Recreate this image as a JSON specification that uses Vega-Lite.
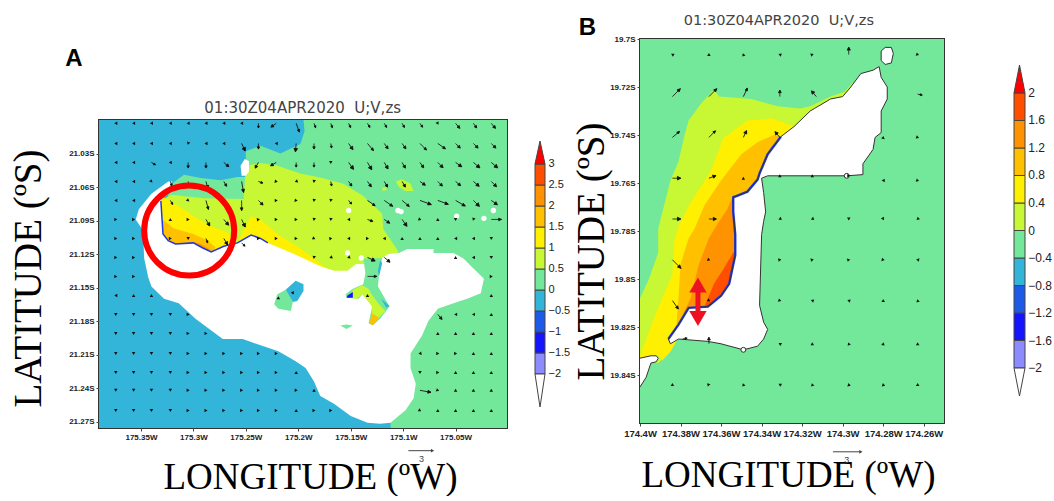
{
"$schema":"https://vega.github.io/schema/vega-lite/v6.json",
"background":"white",
"padding":{"left":8,"top":10,"right":0,"bottom":0},
"config":{"axis":{"labelFont":"Liberation Sans","labelFontWeight":"bold","labelColor":"#222","labelOverlap":false,"labelFlush":false,"tickColor":"#444","tickSize":3,"domain":false,"titleFont":"Liberation Serif","titleFontWeight":"normal","titleColor":"#000","zindex":1,"gridColor":"#aaa","gridDash":[2,3],"gridWidth":1}},
"datasets":{
"bandsA":[{"lo":-2,"hi":-1.5,"zs":-1.75},{"lo":-1.5,"hi":-1,"zs":-1.25},{"lo":-1,"hi":-0.5,"zs":-0.75},{"lo":-0.5,"hi":0,"zs":-0.25},{"lo":0,"hi":0.5,"zs":0.25},{"lo":0.5,"hi":1,"zs":0.75},{"lo":1,"hi":1.5,"zs":1.25},{"lo":1.5,"hi":2,"zs":1.75},{"lo":2,"hi":2.5,"zs":2.25},{"lo":2.5,"hi":3,"zs":2.75}],
"bandsB":[{"lo":-2,"hi":-1.6,"zs":-1.8},{"lo":-1.6,"hi":-1.2,"zs":-1.4},{"lo":-1.2,"hi":-0.8,"zs":-1},{"lo":-0.8,"hi":-0.4,"zs":-0.6},{"lo":-0.4,"hi":0,"zs":-0.2},{"lo":0,"hi":0.4,"zs":0.2},{"lo":0.4,"hi":0.8,"zs":0.6},{"lo":0.8,"hi":1.2,"zs":1},{"lo":1.2,"hi":1.6,"zs":1.4},{"lo":1.6,"hi":2,"zs":1.8}],
"ticksA":[{"pos":1.35,"val":-2,"label":"−2"},{"pos":1.35,"val":-1.5,"label":"−1.5"},{"pos":1.35,"val":-1,"label":"−1"},{"pos":1.35,"val":-0.5,"label":"−0.5"},{"pos":1.35,"val":0,"label":"0"},{"pos":1.35,"val":0.5,"label":"0.5"},{"pos":1.35,"val":1,"label":"1"},{"pos":1.35,"val":1.5,"label":"1.5"},{"pos":1.35,"val":2,"label":"2"},{"pos":1.35,"val":2.5,"label":"2.5"},{"pos":1.35,"val":3,"label":"3"}],
"ticksB":[{"pos":1.3,"val":-2,"label":"−2"},{"pos":1.3,"val":-1.6,"label":"−1.6"},{"pos":1.3,"val":-1.2,"label":"−1.2"},{"pos":1.3,"val":-0.8,"label":"−0.8"},{"pos":1.3,"val":-0.4,"label":"−0.4"},{"pos":1.3,"val":0,"label":"0"},{"pos":1.3,"val":0.4,"label":"0.4"},{"pos":1.3,"val":0.8,"label":"0.8"},{"pos":1.3,"val":1.2,"label":"1.2"},{"pos":1.3,"val":1.6,"label":"1.6"},{"pos":1.3,"val":2,"label":"2"}],
"a_polys":[
{"p":"base","i":0,"zs":-0.25,"lon":-175.39,"lat":-21},{"p":"base","i":1,"zs":-0.25,"lon":-175.001,"lat":-21},{"p":"base","i":2,"zs":-0.25,"lon":-175.001,"lat":-21.2757},{"p":"base","i":3,"zs":-0.25,"lon":-175.39,"lat":-21.2757},
{"p":"green","i":0,"zs":0.25,"lon":-175.195,"lat":-21},{"p":"green","i":1,"zs":0.25,"lon":-175.001,"lat":-21},{"p":"green","i":2,"zs":0.25,"lon":-175.001,"lat":-21.2757},{"p":"green","i":3,"zs":0.25,"lon":-175.112,"lat":-21.2757},{"p":"green","i":4,"zs":0.25,"lon":-175.112,"lat":-21.265},{"p":"green","i":5,"zs":0.25,"lon":-175.198,"lat":-21.162},{"p":"green","i":6,"zs":0.25,"lon":-175.293,"lat":-21.108},{"p":"green","i":7,"zs":0.25,"lon":-175.324,"lat":-21.0725},{"p":"green","i":8,"zs":0.25,"lon":-175.324,"lat":-21.0635},{"p":"green","i":9,"zs":0.25,"lon":-175.319,"lat":-21.056},{"p":"green","i":10,"zs":0.25,"lon":-175.309,"lat":-21.049},{"p":"green","i":11,"zs":0.25,"lon":-175.293,"lat":-21.052},{"p":"green","i":12,"zs":0.25,"lon":-175.274,"lat":-21.054},{"p":"green","i":13,"zs":0.25,"lon":-175.258,"lat":-21.051},{"p":"green","i":14,"zs":0.25,"lon":-175.25,"lat":-21.051},{"p":"green","i":15,"zs":0.25,"lon":-175.25,"lat":-21.028},{"p":"green","i":16,"zs":0.25,"lon":-175.236,"lat":-21.023},{"p":"green","i":17,"zs":0.25,"lon":-175.217,"lat":-21.03},{"p":"green","i":18,"zs":0.25,"lon":-175.198,"lat":-21.0215},{"p":"green","i":19,"zs":0.25,"lon":-175.194,"lat":-21.01},
{"p":"lime","i":0,"zs":0.75,"lon":-175.3215,"lat":-21.067},{"p":"lime","i":1,"zs":0.75,"lon":-175.29,"lat":-21.07},{"p":"lime","i":2,"zs":0.75,"lon":-175.252,"lat":-21.0707},{"p":"lime","i":3,"zs":0.75,"lon":-175.25,"lat":-21.041},{"p":"lime","i":4,"zs":0.75,"lon":-175.236,"lat":-21.0385},{"p":"lime","i":5,"zs":0.75,"lon":-175.22,"lat":-21.041},{"p":"lime","i":6,"zs":0.75,"lon":-175.198,"lat":-21.048},{"p":"lime","i":7,"zs":0.75,"lon":-175.177,"lat":-21.052},{"p":"lime","i":8,"zs":0.75,"lon":-175.157,"lat":-21.057},{"p":"lime","i":9,"zs":0.75,"lon":-175.138,"lat":-21.068},{"p":"lime","i":10,"zs":0.75,"lon":-175.12,"lat":-21.084},{"p":"lime","i":11,"zs":0.75,"lon":-175.119,"lat":-21.0976},{"p":"lime","i":12,"zs":0.75,"lon":-175.105,"lat":-21.117},{"p":"lime","i":13,"zs":0.75,"lon":-175.104,"lat":-21.128},{"p":"lime","i":14,"zs":0.75,"lon":-175.16,"lat":-21.153},{"p":"lime","i":15,"zs":0.75,"lon":-175.331,"lat":-21.117},{"p":"lime","i":16,"zs":0.75,"lon":-175.331,"lat":-21.0725},
{"p":"blob1","i":0,"zs":0.75,"lon":-175.107,"lat":-21.055},{"p":"blob1","i":1,"zs":0.75,"lon":-175.101,"lat":-21.053},{"p":"blob1","i":2,"zs":0.75,"lon":-175.093,"lat":-21.057},{"p":"blob1","i":3,"zs":0.75,"lon":-175.09,"lat":-21.0635},{"p":"blob1","i":4,"zs":0.75,"lon":-175.098,"lat":-21.0635},{"p":"blob1","i":5,"zs":0.75,"lon":-175.104,"lat":-21.06},
{"p":"blob2","i":0,"zs":0.75,"lon":-175.12,"lat":-21.061},{"p":"blob2","i":1,"zs":0.75,"lon":-175.116,"lat":-21.06},{"p":"blob2","i":2,"zs":0.75,"lon":-175.116,"lat":-21.063},{"p":"blob2","i":3,"zs":0.75,"lon":-175.12,"lat":-21.063},
{"p":"y1","i":0,"zs":1.25,"lon":-175.331,"lat":-21.068},{"p":"y1","i":1,"zs":1.25,"lon":-175.319,"lat":-21.074},{"p":"y1","i":2,"zs":1.25,"lon":-175.3,"lat":-21.086},{"p":"y1","i":3,"zs":1.25,"lon":-175.283,"lat":-21.095},{"p":"y1","i":4,"zs":1.25,"lon":-175.267,"lat":-21.101},{"p":"y1","i":5,"zs":1.25,"lon":-175.261,"lat":-21.109},{"p":"y1","i":6,"zs":1.25,"lon":-175.279,"lat":-21.123},{"p":"y1","i":7,"zs":1.25,"lon":-175.331,"lat":-21.117},
{"p":"y2","i":0,"zs":1.25,"lon":-175.257,"lat":-21.108},{"p":"y2","i":1,"zs":1.25,"lon":-175.245,"lat":-21.086},{"p":"y2","i":2,"zs":1.25,"lon":-175.236,"lat":-21.089},{"p":"y2","i":3,"zs":1.25,"lon":-175.22,"lat":-21.102},{"p":"y2","i":4,"zs":1.25,"lon":-175.198,"lat":-21.115},{"p":"y2","i":5,"zs":1.25,"lon":-175.188,"lat":-21.122},{"p":"y2","i":6,"zs":1.25,"lon":-175.176,"lat":-21.131},{"p":"y2","i":7,"zs":1.25,"lon":-175.164,"lat":-21.137},{"p":"y2","i":8,"zs":1.25,"lon":-175.198,"lat":-21.144},{"p":"y2","i":9,"zs":1.25,"lon":-175.255,"lat":-21.126},
{"p":"amber","i":0,"zs":1.75,"lon":-175.331,"lat":-21.088},{"p":"amber","i":1,"zs":1.75,"lon":-175.319,"lat":-21.097},{"p":"amber","i":2,"zs":1.75,"lon":-175.3,"lat":-21.102},{"p":"amber","i":3,"zs":1.75,"lon":-175.286,"lat":-21.108},{"p":"amber","i":4,"zs":1.75,"lon":-175.279,"lat":-21.114},{"p":"amber","i":5,"zs":1.75,"lon":-175.283,"lat":-21.123},{"p":"amber","i":6,"zs":1.75,"lon":-175.331,"lat":-21.117},
{"p":"orange","i":0,"zs":2.25,"lon":-175.302,"lat":-21.109},{"p":"orange","i":1,"zs":2.25,"lon":-175.293,"lat":-21.111},{"p":"orange","i":2,"zs":2.25,"lon":-175.282,"lat":-21.117},{"p":"orange","i":3,"zs":2.25,"lon":-175.295,"lat":-21.115}
],
"a_land":[
{"p":"main","i":0,"lon":-175.32,"lat":-21.055},{"p":"main","i":1,"lon":-175.324,"lat":-21.055},{"p":"main","i":2,"lon":-175.34,"lat":-21.066},{"p":"main","i":3,"lon":-175.352,"lat":-21.08},{"p":"main","i":4,"lon":-175.355,"lat":-21.089},{"p":"main","i":5,"lon":-175.348,"lat":-21.099},{"p":"main","i":6,"lon":-175.347,"lat":-21.1235},{"p":"main","i":7,"lon":-175.343,"lat":-21.141},{"p":"main","i":8,"lon":-175.34,"lat":-21.149},{"p":"main","i":9,"lon":-175.328,"lat":-21.16},{"p":"main","i":10,"lon":-175.314,"lat":-21.164},{"p":"main","i":11,"lon":-175.298,"lat":-21.178},{"p":"main","i":12,"lon":-175.272,"lat":-21.196},{"p":"main","i":13,"lon":-175.253,"lat":-21.196},{"p":"main","i":14,"lon":-175.238,"lat":-21.201},{"p":"main","i":15,"lon":-175.219,"lat":-21.207},{"p":"main","i":16,"lon":-175.2025,"lat":-21.216},{"p":"main","i":17,"lon":-175.193,"lat":-21.222},{"p":"main","i":18,"lon":-175.185,"lat":-21.234},{"p":"main","i":19,"lon":-175.179,"lat":-21.247},{"p":"main","i":20,"lon":-175.166,"lat":-21.254},{"p":"main","i":21,"lon":-175.15,"lat":-21.265},{"p":"main","i":22,"lon":-175.134,"lat":-21.271},{"p":"main","i":23,"lon":-175.122,"lat":-21.272},{"p":"main","i":24,"lon":-175.112,"lat":-21.271},{"p":"main","i":25,"lon":-175.107,"lat":-21.267},{"p":"main","i":26,"lon":-175.098,"lat":-21.26},{"p":"main","i":27,"lon":-175.09,"lat":-21.249},{"p":"main","i":28,"lon":-175.088,"lat":-21.236},{"p":"main","i":29,"lon":-175.093,"lat":-21.222},{"p":"main","i":30,"lon":-175.093,"lat":-21.209},{"p":"main","i":31,"lon":-175.082,"lat":-21.193},{"p":"main","i":32,"lon":-175.076,"lat":-21.18},{"p":"main","i":33,"lon":-175.067,"lat":-21.169},{"p":"main","i":34,"lon":-175.052,"lat":-21.164},{"p":"main","i":35,"lon":-175.039,"lat":-21.16},{"p":"main","i":36,"lon":-175.026,"lat":-21.155},{"p":"main","i":37,"lon":-175.023,"lat":-21.142},{"p":"main","i":38,"lon":-175.033,"lat":-21.133},{"p":"main","i":39,"lon":-175.0425,"lat":-21.124},{"p":"main","i":40,"lon":-175.052,"lat":-21.119},{"p":"main","i":41,"lon":-175.071,"lat":-21.119},{"p":"main","i":42,"lon":-175.071,"lat":-21.1155},{"p":"main","i":43,"lon":-175.096,"lat":-21.1155},{"p":"main","i":44,"lon":-175.104,"lat":-21.119},{"p":"main","i":45,"lon":-175.114,"lat":-21.12},{"p":"main","i":46,"lon":-175.12,"lat":-21.1235},{"p":"main","i":47,"lon":-175.138,"lat":-21.129},{"p":"main","i":48,"lon":-175.145,"lat":-21.129},{"p":"main","i":49,"lon":-175.153,"lat":-21.135},{"p":"main","i":50,"lon":-175.166,"lat":-21.135},{"p":"main","i":51,"lon":-175.179,"lat":-21.131},{"p":"main","i":52,"lon":-175.204,"lat":-21.12},{"p":"main","i":53,"lon":-175.229,"lat":-21.11},{"p":"main","i":54,"lon":-175.236,"lat":-21.106},{"p":"main","i":55,"lon":-175.245,"lat":-21.103},{"p":"main","i":56,"lon":-175.258,"lat":-21.11},{"p":"main","i":57,"lon":-175.271,"lat":-21.113},{"p":"main","i":58,"lon":-175.283,"lat":-21.118},{"p":"main","i":59,"lon":-175.291,"lat":-21.1146},{"p":"main","i":60,"lon":-175.3,"lat":-21.11},{"p":"main","i":61,"lon":-175.317,"lat":-21.111},{"p":"main","i":62,"lon":-175.324,"lat":-21.108},{"p":"main","i":63,"lon":-175.329,"lat":-21.102},{"p":"main","i":64,"lon":-175.331,"lat":-21.0725},
{"p":"isle","i":0,"lon":-175.254,"lat":-21.05},{"p":"isle","i":1,"lon":-175.255,"lat":-21.041},{"p":"isle","i":2,"lon":-175.251,"lat":-21.035},{"p":"isle","i":3,"lon":-175.247,"lat":-21.037},{"p":"isle","i":4,"lon":-175.247,"lat":-21.046},{"p":"isle","i":5,"lon":-175.25,"lat":-21.05}
],
"a_over":[
{"p":"chan","i":0,"zs":0.25,"lon":-175.138,"lat":-21.124},{"p":"chan","i":1,"zs":0.25,"lon":-175.12,"lat":-21.1235},{"p":"chan","i":2,"zs":0.25,"lon":-175.123,"lat":-21.138},{"p":"chan","i":3,"zs":0.25,"lon":-175.124,"lat":-21.149},{"p":"chan","i":4,"zs":0.25,"lon":-175.113,"lat":-21.167},{"p":"chan","i":5,"zs":0.25,"lon":-175.122,"lat":-21.178},{"p":"chan","i":6,"zs":0.25,"lon":-175.129,"lat":-21.184},{"p":"chan","i":7,"zs":0.25,"lon":-175.133,"lat":-21.182},{"p":"chan","i":8,"zs":0.25,"lon":-175.129,"lat":-21.165},{"p":"chan","i":9,"zs":0.25,"lon":-175.138,"lat":-21.155},{"p":"chan","i":10,"zs":0.25,"lon":-175.1425,"lat":-21.16},{"p":"chan","i":11,"zs":0.25,"lon":-175.154,"lat":-21.159},{"p":"chan","i":12,"zs":0.25,"lon":-175.155,"lat":-21.156},{"p":"chan","i":13,"zs":0.25,"lon":-175.148,"lat":-21.151},{"p":"chan","i":14,"zs":0.25,"lon":-175.138,"lat":-21.147},{"p":"chan","i":15,"zs":0.25,"lon":-175.136,"lat":-21.137},
{"p":"pocket","i":0,"zs":0.75,"lon":-175.148,"lat":-21.152},{"p":"pocket","i":1,"zs":0.75,"lon":-175.139,"lat":-21.148},{"p":"pocket","i":2,"zs":0.75,"lon":-175.133,"lat":-21.151},{"p":"pocket","i":3,"zs":0.75,"lon":-175.129,"lat":-21.1575},{"p":"pocket","i":4,"zs":0.75,"lon":-175.123,"lat":-21.165},{"p":"pocket","i":5,"zs":0.75,"lon":-175.117,"lat":-21.171},{"p":"pocket","i":6,"zs":0.75,"lon":-175.122,"lat":-21.176},{"p":"pocket","i":7,"zs":0.75,"lon":-175.129,"lat":-21.182},{"p":"pocket","i":8,"zs":0.75,"lon":-175.13,"lat":-21.1665},{"p":"pocket","i":9,"zs":0.75,"lon":-175.139,"lat":-21.156},{"p":"pocket","i":10,"zs":0.75,"lon":-175.144,"lat":-21.16},{"p":"pocket","i":11,"zs":0.75,"lon":-175.152,"lat":-21.159},
{"p":"t1","i":0,"zs":-0.25,"lon":-175.122,"lat":-21.126},{"p":"t1","i":1,"zs":-0.25,"lon":-175.12,"lat":-21.128},{"p":"t1","i":2,"zs":-0.25,"lon":-175.123,"lat":-21.14},{"p":"t1","i":3,"zs":-0.25,"lon":-175.124,"lat":-21.135},
{"p":"t2","i":0,"zs":-0.25,"lon":-175.121,"lat":-21.16},{"p":"t2","i":1,"zs":-0.25,"lon":-175.113,"lat":-21.1665},{"p":"t2","i":2,"zs":-0.25,"lon":-175.116,"lat":-21.168},
{"p":"tail","i":0,"zs":1.75,"lon":-175.13,"lat":-21.173},{"p":"tail","i":1,"zs":1.75,"lon":-175.123,"lat":-21.177},{"p":"tail","i":2,"zs":1.75,"lon":-175.129,"lat":-21.1835},{"p":"tail","i":3,"zs":1.75,"lon":-175.132,"lat":-21.182},
{"p":"dark","i":0,"zs":-1.25,"lon":-175.153,"lat":-21.157},{"p":"dark","i":1,"zs":-1.25,"lon":-175.148,"lat":-21.154},{"p":"dark","i":2,"zs":-1.25,"lon":-175.148,"lat":-21.159},{"p":"dark","i":3,"zs":-1.25,"lon":-175.154,"lat":-21.159},
{"p":"i1","i":0,"zs":0.25,"lon":-175.223,"lat":-21.165},{"p":"i1","i":1,"zs":0.25,"lon":-175.22,"lat":-21.156},{"p":"i1","i":2,"zs":0.25,"lon":-175.212,"lat":-21.152},{"p":"i1","i":3,"zs":0.25,"lon":-175.205,"lat":-21.162},{"p":"i1","i":4,"zs":0.25,"lon":-175.207,"lat":-21.171},{"p":"i1","i":5,"zs":0.25,"lon":-175.219,"lat":-21.169},
{"p":"i2","i":0,"zs":-0.25,"lon":-175.212,"lat":-21.152},{"p":"i2","i":1,"zs":-0.25,"lon":-175.2025,"lat":-21.144},{"p":"i2","i":2,"zs":-0.25,"lon":-175.195,"lat":-21.147},{"p":"i2","i":3,"zs":-0.25,"lon":-175.195,"lat":-21.153},{"p":"i2","i":4,"zs":-0.25,"lon":-175.201,"lat":-21.162},{"p":"i2","i":5,"zs":-0.25,"lon":-175.205,"lat":-21.163},
{"p":"i3","i":0,"zs":0.25,"lon":-175.16,"lat":-21.184},{"p":"i3","i":1,"zs":0.25,"lon":-175.154,"lat":-21.183},{"p":"i3","i":2,"zs":0.25,"lon":-175.148,"lat":-21.184},{"p":"i3","i":3,"zs":0.25,"lon":-175.154,"lat":-21.187}
],
"a_coast":[{"i":0,"lon":-175.331,"lat":-21.0725},{"i":1,"lon":-175.329,"lat":-21.102},{"i":2,"lon":-175.324,"lat":-21.108},{"i":3,"lon":-175.317,"lat":-21.111},{"i":4,"lon":-175.3,"lat":-21.11},{"i":5,"lon":-175.291,"lat":-21.1146},{"i":6,"lon":-175.283,"lat":-21.118},{"i":7,"lon":-175.271,"lat":-21.113},{"i":8,"lon":-175.258,"lat":-21.11},{"i":9,"lon":-175.245,"lat":-21.103},{"i":10,"lon":-175.236,"lat":-21.106},{"i":11,"lon":-175.229,"lat":-21.11}],
"a_specks":[{"lon":-175.152,"lat":-21.081},{"lon":-175.105,"lat":-21.081},{"lon":-175.102,"lat":-21.082},{"lon":-175.049,"lat":-21.086},{"lon":-175.023,"lat":-21.088},{"lon":-175.014,"lat":-21.081},{"lon":-175.153,"lat":-21.119},{"lon":-175.14,"lat":-21.1235}],
"a_arrows":[
{"lon":-175.374,"lat":-21.003,"dir":270,"speed":0.4},{"lon":-175.357,"lat":-21.003,"dir":270,"speed":0.4},{"lon":-175.34,"lat":-21.003,"dir":270,"speed":0.4},{"lon":-175.322,"lat":-21.003,"dir":270,"speed":0.4},{"lon":-175.305,"lat":-21.003,"dir":270,"speed":0.4},{"lon":-175.288,"lat":-21.003,"dir":270,"speed":0.4},{"lon":-175.271,"lat":-21.003,"dir":270,"speed":0.4},{"lon":-175.254,"lat":-21.003,"dir":270,"speed":0.4},{"lon":-175.238,"lat":-21.003,"dir":180,"speed":0.5},{"lon":-175.221,"lat":-21.003,"dir":235,"speed":0.7},{"lon":-175.202,"lat":-21.003,"dir":160,"speed":1},{"lon":-175.185,"lat":-21.003,"dir":160,"speed":0.5},{"lon":-175.169,"lat":-21.003,"dir":160,"speed":0.5},{"lon":-175.152,"lat":-21.003,"dir":155,"speed":0.5},{"lon":-175.134,"lat":-21.003,"dir":150,"speed":0.5},{"lon":-175.118,"lat":-21.003,"dir":150,"speed":0.5},{"lon":-175.101,"lat":-21.003,"dir":150,"speed":0.5},{"lon":-175.084,"lat":-21.003,"dir":145,"speed":0.5},{"lon":-175.067,"lat":-21.003,"dir":150,"speed":0.4},{"lon":-175.05,"lat":-21.003,"dir":140,"speed":0.7},{"lon":-175.033,"lat":-21.003,"dir":145,"speed":0.6},{"lon":-175.016,"lat":-21.003,"dir":140,"speed":0.7},
{"lon":-175.374,"lat":-21.021,"dir":270,"speed":0.3},{"lon":-175.357,"lat":-21.021,"dir":270,"speed":0.3},{"lon":-175.34,"lat":-21.021,"dir":270,"speed":0.3},{"lon":-175.322,"lat":-21.021,"dir":270,"speed":0.3},{"lon":-175.305,"lat":-21.021,"dir":200,"speed":0.3},{"lon":-175.288,"lat":-21.021,"dir":270,"speed":0.3},{"lon":-175.271,"lat":-21.021,"dir":270,"speed":0.4},{"lon":-175.254,"lat":-21.021,"dir":155,"speed":0.9},{"lon":-175.238,"lat":-21.021,"dir":180,"speed":0.6},{"lon":-175.221,"lat":-21.021,"dir":270,"speed":0.3},{"lon":-175.202,"lat":-21.021,"dir":185,"speed":0.9},{"lon":-175.185,"lat":-21.021,"dir":180,"speed":0.6},{"lon":-175.169,"lat":-21.021,"dir":170,"speed":0.5},{"lon":-175.152,"lat":-21.021,"dir":145,"speed":0.8},{"lon":-175.134,"lat":-21.021,"dir":140,"speed":1},{"lon":-175.118,"lat":-21.021,"dir":145,"speed":0.7},{"lon":-175.101,"lat":-21.021,"dir":145,"speed":0.7},{"lon":-175.084,"lat":-21.021,"dir":135,"speed":1},{"lon":-175.067,"lat":-21.021,"dir":125,"speed":1},{"lon":-175.05,"lat":-21.021,"dir":135,"speed":0.7},{"lon":-175.033,"lat":-21.021,"dir":135,"speed":0.7},{"lon":-175.016,"lat":-21.021,"dir":135,"speed":0.7},
{"lon":-175.374,"lat":-21.038,"dir":270,"speed":0.3},{"lon":-175.357,"lat":-21.038,"dir":270,"speed":0.3},{"lon":-175.34,"lat":-21.038,"dir":120,"speed":0.5},{"lon":-175.322,"lat":-21.038,"dir":270,"speed":0.4},{"lon":-175.305,"lat":-21.038,"dir":180,"speed":0.6},{"lon":-175.288,"lat":-21.038,"dir":180,"speed":0.6},{"lon":-175.271,"lat":-21.038,"dir":130,"speed":0.7},{"lon":-175.238,"lat":-21.038,"dir":210,"speed":0.7},{"lon":-175.221,"lat":-21.038,"dir":240,"speed":0.7},{"lon":-175.202,"lat":-21.038,"dir":180,"speed":0.5},{"lon":-175.185,"lat":-21.038,"dir":180,"speed":0.5},{"lon":-175.169,"lat":-21.038,"dir":180,"speed":0.4},{"lon":-175.152,"lat":-21.038,"dir":145,"speed":0.9},{"lon":-175.134,"lat":-21.038,"dir":150,"speed":0.9},{"lon":-175.118,"lat":-21.038,"dir":150,"speed":0.8},{"lon":-175.101,"lat":-21.038,"dir":150,"speed":0.7},{"lon":-175.084,"lat":-21.038,"dir":145,"speed":0.7},{"lon":-175.067,"lat":-21.038,"dir":135,"speed":0.8},{"lon":-175.05,"lat":-21.038,"dir":125,"speed":0.8},{"lon":-175.033,"lat":-21.038,"dir":130,"speed":0.9},{"lon":-175.016,"lat":-21.038,"dir":130,"speed":0.9},
{"lon":-175.374,"lat":-21.055,"dir":270,"speed":0.3},{"lon":-175.357,"lat":-21.055,"dir":270,"speed":0.3},{"lon":-175.34,"lat":-21.055,"dir":135,"speed":0.3},{"lon":-175.322,"lat":-21.055,"dir":160,"speed":0.5},{"lon":-175.305,"lat":-21.055,"dir":170,"speed":0.6},{"lon":-175.288,"lat":-21.055,"dir":165,"speed":0.8},{"lon":-175.271,"lat":-21.055,"dir":150,"speed":0.6},{"lon":-175.254,"lat":-21.055,"dir":170,"speed":1.2},{"lon":-175.238,"lat":-21.055,"dir":110,"speed":0.5},{"lon":-175.221,"lat":-21.055,"dir":100,"speed":0.4},{"lon":-175.202,"lat":-21.055,"dir":250,"speed":0.4},{"lon":-175.185,"lat":-21.055,"dir":190,"speed":0.4},{"lon":-175.169,"lat":-21.055,"dir":170,"speed":0.5},{"lon":-175.152,"lat":-21.055,"dir":145,"speed":0.6},{"lon":-175.134,"lat":-21.055,"dir":145,"speed":0.7},{"lon":-175.118,"lat":-21.055,"dir":150,"speed":0.7},{"lon":-175.101,"lat":-21.055,"dir":150,"speed":0.7},{"lon":-175.084,"lat":-21.055,"dir":125,"speed":0.7},{"lon":-175.067,"lat":-21.055,"dir":135,"speed":0.7},{"lon":-175.05,"lat":-21.055,"dir":130,"speed":0.7},{"lon":-175.033,"lat":-21.055,"dir":130,"speed":0.8},{"lon":-175.016,"lat":-21.055,"dir":135,"speed":0.8},
{"lon":-175.374,"lat":-21.072,"dir":270,"speed":0.3},{"lon":-175.357,"lat":-21.072,"dir":270,"speed":0.3},{"lon":-175.322,"lat":-21.072,"dir":150,"speed":0.5},{"lon":-175.305,"lat":-21.072,"dir":130,"speed":0.4},{"lon":-175.288,"lat":-21.072,"dir":165,"speed":1},{"lon":-175.271,"lat":-21.072,"dir":135,"speed":0.3},{"lon":-175.254,"lat":-21.072,"dir":180,"speed":1.1},{"lon":-175.238,"lat":-21.072,"dir":135,"speed":0.7},{"lon":-175.221,"lat":-21.072,"dir":90,"speed":0.4},{"lon":-175.202,"lat":-21.072,"dir":100,"speed":0.3},{"lon":-175.185,"lat":-21.072,"dir":190,"speed":0.3},{"lon":-175.169,"lat":-21.072,"dir":190,"speed":0.3},{"lon":-175.152,"lat":-21.072,"dir":140,"speed":0.5},{"lon":-175.134,"lat":-21.072,"dir":125,"speed":1},{"lon":-175.118,"lat":-21.072,"dir":125,"speed":1.1},{"lon":-175.101,"lat":-21.072,"dir":130,"speed":1},{"lon":-175.084,"lat":-21.072,"dir":110,"speed":1.3},{"lon":-175.067,"lat":-21.072,"dir":110,"speed":1.2},{"lon":-175.05,"lat":-21.072,"dir":120,"speed":1.2},{"lon":-175.033,"lat":-21.072,"dir":135,"speed":0.9},{"lon":-175.016,"lat":-21.072,"dir":125,"speed":0.8},
{"lon":-175.374,"lat":-21.089,"dir":90,"speed":0.3},{"lon":-175.357,"lat":-21.089,"dir":90,"speed":0.3},{"lon":-175.322,"lat":-21.089,"dir":0,"speed":0.3},{"lon":-175.305,"lat":-21.089,"dir":90,"speed":0.3},{"lon":-175.288,"lat":-21.089,"dir":150,"speed":0.8},{"lon":-175.271,"lat":-21.089,"dir":140,"speed":0.8},{"lon":-175.254,"lat":-21.089,"dir":155,"speed":0.9},{"lon":-175.238,"lat":-21.089,"dir":80,"speed":0.3},{"lon":-175.221,"lat":-21.089,"dir":90,"speed":0.3},{"lon":-175.202,"lat":-21.089,"dir":90,"speed":0.3},{"lon":-175.185,"lat":-21.089,"dir":190,"speed":0.3},{"lon":-175.169,"lat":-21.089,"dir":190,"speed":0.3},{"lon":-175.152,"lat":-21.089,"dir":270,"speed":0.3},{"lon":-175.134,"lat":-21.089,"dir":110,"speed":0.6},{"lon":-175.118,"lat":-21.089,"dir":125,"speed":0.7},{"lon":-175.101,"lat":-21.089,"dir":145,"speed":0.9},{"lon":-175.084,"lat":-21.089,"dir":110,"speed":0.4},{"lon":-175.067,"lat":-21.089,"dir":0,"speed":0.3},{"lon":-175.05,"lat":-21.089,"dir":180,"speed":0.3},{"lon":-175.033,"lat":-21.089,"dir":200,"speed":0.3},{"lon":-175.016,"lat":-21.089,"dir":90,"speed":1.1},
{"lon":-175.374,"lat":-21.106,"dir":90,"speed":0.3},{"lon":-175.357,"lat":-21.106,"dir":90,"speed":0.3},{"lon":-175.322,"lat":-21.106,"dir":90,"speed":0.3},{"lon":-175.305,"lat":-21.106,"dir":180,"speed":0.3},{"lon":-175.288,"lat":-21.106,"dir":160,"speed":0.5},{"lon":-175.271,"lat":-21.106,"dir":150,"speed":0.8},{"lon":-175.254,"lat":-21.11,"dir":135,"speed":0.5},{"lon":-175.238,"lat":-21.106,"dir":90,"speed":0.3},{"lon":-175.221,"lat":-21.106,"dir":90,"speed":0.3},{"lon":-175.202,"lat":-21.106,"dir":90,"speed":0.3},{"lon":-175.185,"lat":-21.106,"dir":120,"speed":0.4},{"lon":-175.169,"lat":-21.106,"dir":80,"speed":0.4},{"lon":-175.152,"lat":-21.106,"dir":270,"speed":0.3},{"lon":-175.134,"lat":-21.106,"dir":90,"speed":0.3},{"lon":-175.118,"lat":-21.106,"dir":270,"speed":0.3},{"lon":-175.101,"lat":-21.106,"dir":0,"speed":0.3},{"lon":-175.084,"lat":-21.106,"dir":0,"speed":0.3},{"lon":-175.067,"lat":-21.106,"dir":0,"speed":0.3},{"lon":-175.05,"lat":-21.106,"dir":270,"speed":0.3},{"lon":-175.033,"lat":-21.106,"dir":270,"speed":0.3},{"lon":-175.016,"lat":-21.106,"dir":180,"speed":0.3},
{"lon":-175.374,"lat":-21.123,"dir":90,"speed":0.3},{"lon":-175.357,"lat":-21.123,"dir":90,"speed":0.3},{"lon":-175.185,"lat":-21.123,"dir":190,"speed":0.3},{"lon":-175.169,"lat":-21.123,"dir":250,"speed":0.3},{"lon":-175.152,"lat":-21.123,"dir":250,"speed":0.3},{"lon":-175.134,"lat":-21.123,"dir":115,"speed":0.9},{"lon":-175.118,"lat":-21.123,"dir":130,"speed":0.8},{"lon":-175.05,"lat":-21.123,"dir":0,"speed":0.3},{"lon":-175.033,"lat":-21.123,"dir":270,"speed":0.3},{"lon":-175.016,"lat":-21.123,"dir":180,"speed":0.3},
{"lon":-175.374,"lat":-21.14,"dir":90,"speed":0.3},{"lon":-175.357,"lat":-21.14,"dir":90,"speed":0.3},{"lon":-175.134,"lat":-21.14,"dir":90,"speed":1},{"lon":-175.016,"lat":-21.14,"dir":90,"speed":0.3},
{"lon":-175.374,"lat":-21.157,"dir":270,"speed":0.3},{"lon":-175.357,"lat":-21.157,"dir":0,"speed":0.3},{"lon":-175.34,"lat":-21.157,"dir":0,"speed":0.3},{"lon":-175.219,"lat":-21.159,"dir":0,"speed":0.3},{"lon":-175.205,"lat":-21.155,"dir":150,"speed":0.4},{"lon":-175.134,"lat":-21.157,"dir":0,"speed":0.3},{"lon":-175.016,"lat":-21.157,"dir":0,"speed":0.3},
{"lon":-175.374,"lat":-21.174,"dir":180,"speed":0.3},{"lon":-175.357,"lat":-21.174,"dir":180,"speed":0.3},{"lon":-175.34,"lat":-21.174,"dir":180,"speed":0.3},{"lon":-175.322,"lat":-21.174,"dir":180,"speed":0.3},{"lon":-175.305,"lat":-21.174,"dir":90,"speed":0.3},{"lon":-175.067,"lat":-21.174,"dir":140,"speed":0.7},{"lon":-175.05,"lat":-21.174,"dir":270,"speed":0.3},{"lon":-175.033,"lat":-21.174,"dir":270,"speed":0.3},{"lon":-175.016,"lat":-21.174,"dir":0,"speed":0.3},
{"lon":-175.374,"lat":-21.191,"dir":180,"speed":0.3},{"lon":-175.357,"lat":-21.191,"dir":180,"speed":0.3},{"lon":-175.34,"lat":-21.191,"dir":180,"speed":0.3},{"lon":-175.322,"lat":-21.191,"dir":180,"speed":0.3},{"lon":-175.305,"lat":-21.191,"dir":90,"speed":0.3},{"lon":-175.288,"lat":-21.191,"dir":90,"speed":0.3},{"lon":-175.067,"lat":-21.191,"dir":0,"speed":0.3},{"lon":-175.05,"lat":-21.191,"dir":0,"speed":0.3},{"lon":-175.033,"lat":-21.191,"dir":0,"speed":0.3},{"lon":-175.016,"lat":-21.191,"dir":0,"speed":0.3},
{"lon":-175.374,"lat":-21.209,"dir":180,"speed":0.3},{"lon":-175.357,"lat":-21.209,"dir":180,"speed":0.3},{"lon":-175.34,"lat":-21.209,"dir":180,"speed":0.3},{"lon":-175.322,"lat":-21.209,"dir":180,"speed":0.3},{"lon":-175.305,"lat":-21.209,"dir":90,"speed":0.3},{"lon":-175.288,"lat":-21.209,"dir":90,"speed":0.3},{"lon":-175.271,"lat":-21.209,"dir":90,"speed":0.3},{"lon":-175.254,"lat":-21.209,"dir":90,"speed":0.3},{"lon":-175.238,"lat":-21.209,"dir":90,"speed":0.3},{"lon":-175.221,"lat":-21.209,"dir":90,"speed":0.3},{"lon":-175.084,"lat":-21.209,"dir":260,"speed":0.4},{"lon":-175.067,"lat":-21.209,"dir":90,"speed":0.3},{"lon":-175.05,"lat":-21.209,"dir":90,"speed":0.3},{"lon":-175.033,"lat":-21.209,"dir":0,"speed":0.3},{"lon":-175.016,"lat":-21.209,"dir":0,"speed":0.3},
{"lon":-175.374,"lat":-21.226,"dir":180,"speed":0.3},{"lon":-175.357,"lat":-21.226,"dir":180,"speed":0.3},{"lon":-175.34,"lat":-21.226,"dir":180,"speed":0.3},{"lon":-175.322,"lat":-21.226,"dir":180,"speed":0.3},{"lon":-175.305,"lat":-21.226,"dir":90,"speed":0.3},{"lon":-175.288,"lat":-21.226,"dir":90,"speed":0.3},{"lon":-175.271,"lat":-21.226,"dir":90,"speed":0.3},{"lon":-175.254,"lat":-21.226,"dir":90,"speed":0.3},{"lon":-175.238,"lat":-21.226,"dir":90,"speed":0.3},{"lon":-175.221,"lat":-21.226,"dir":90,"speed":0.3},{"lon":-175.202,"lat":-21.226,"dir":0,"speed":0.3},{"lon":-175.084,"lat":-21.226,"dir":180,"speed":0.3},{"lon":-175.067,"lat":-21.226,"dir":90,"speed":0.3},{"lon":-175.05,"lat":-21.226,"dir":0,"speed":0.3},{"lon":-175.033,"lat":-21.226,"dir":0,"speed":0.3},{"lon":-175.016,"lat":-21.226,"dir":0,"speed":0.3},
{"lon":-175.374,"lat":-21.242,"dir":180,"speed":0.3},{"lon":-175.357,"lat":-21.242,"dir":180,"speed":0.3},{"lon":-175.34,"lat":-21.242,"dir":180,"speed":0.3},{"lon":-175.322,"lat":-21.242,"dir":180,"speed":0.3},{"lon":-175.305,"lat":-21.242,"dir":90,"speed":0.3},{"lon":-175.288,"lat":-21.242,"dir":90,"speed":0.3},{"lon":-175.271,"lat":-21.242,"dir":90,"speed":0.3},{"lon":-175.254,"lat":-21.242,"dir":90,"speed":0.3},{"lon":-175.238,"lat":-21.242,"dir":90,"speed":0.3},{"lon":-175.221,"lat":-21.242,"dir":90,"speed":0.3},{"lon":-175.202,"lat":-21.242,"dir":90,"speed":0.3},{"lon":-175.185,"lat":-21.242,"dir":0,"speed":0.3},{"lon":-175.084,"lat":-21.242,"dir":100,"speed":1.2},{"lon":-175.067,"lat":-21.242,"dir":110,"speed":0.4},{"lon":-175.05,"lat":-21.242,"dir":0,"speed":0.3},{"lon":-175.033,"lat":-21.242,"dir":0,"speed":0.3},{"lon":-175.016,"lat":-21.242,"dir":0,"speed":0.3},
{"lon":-175.374,"lat":-21.26,"dir":180,"speed":0.3},{"lon":-175.357,"lat":-21.26,"dir":180,"speed":0.3},{"lon":-175.34,"lat":-21.26,"dir":180,"speed":0.3},{"lon":-175.322,"lat":-21.26,"dir":180,"speed":0.3},{"lon":-175.305,"lat":-21.26,"dir":90,"speed":0.3},{"lon":-175.288,"lat":-21.26,"dir":90,"speed":0.3},{"lon":-175.271,"lat":-21.26,"dir":90,"speed":0.3},{"lon":-175.254,"lat":-21.26,"dir":90,"speed":0.3},{"lon":-175.238,"lat":-21.26,"dir":90,"speed":0.3},{"lon":-175.221,"lat":-21.26,"dir":90,"speed":0.3},{"lon":-175.202,"lat":-21.26,"dir":0,"speed":0.3},{"lon":-175.185,"lat":-21.26,"dir":90,"speed":0.3},{"lon":-175.169,"lat":-21.26,"dir":90,"speed":0.3},{"lon":-175.084,"lat":-21.26,"dir":120,"speed":0.4},{"lon":-175.067,"lat":-21.26,"dir":0,"speed":0.3},{"lon":-175.05,"lat":-21.26,"dir":0,"speed":0.3},{"lon":-175.033,"lat":-21.26,"dir":0,"speed":0.3},{"lon":-175.016,"lat":-21.26,"dir":0,"speed":0.3}
],
"b_polys":[
{"p":"base","i":0,"zs":-0.2,"lon":-174.4,"lat":-19.7},{"p":"base","i":1,"zs":-0.2,"lon":-174.25,"lat":-19.7},{"p":"base","i":2,"zs":-0.2,"lon":-174.25,"lat":-19.86},{"p":"base","i":3,"zs":-0.2,"lon":-174.4,"lat":-19.86},
{"p":"lime","i":0,"zs":0.2,"lon":-174.3635,"lat":-19.721},{"p":"lime","i":1,"zs":0.2,"lon":-174.361,"lat":-19.724},{"p":"lime","i":2,"zs":0.2,"lon":-174.345,"lat":-19.725},{"p":"lime","i":3,"zs":0.2,"lon":-174.332,"lat":-19.728},{"p":"lime","i":4,"zs":0.2,"lon":-174.321,"lat":-19.729},{"p":"lime","i":5,"zs":0.2,"lon":-174.316,"lat":-19.728},{"p":"lime","i":6,"zs":0.2,"lon":-174.306,"lat":-19.724},{"p":"lime","i":7,"zs":0.2,"lon":-174.299,"lat":-19.722},{"p":"lime","i":8,"zs":0.2,"lon":-174.295,"lat":-19.718},{"p":"lime","i":9,"zs":0.2,"lon":-174.293,"lat":-19.722},{"p":"lime","i":10,"zs":0.2,"lon":-174.33,"lat":-19.75},{"p":"lime","i":11,"zs":0.2,"lon":-174.3408,"lat":-19.7578},{"p":"lime","i":12,"zs":0.2,"lon":-174.345,"lat":-19.766},{"p":"lime","i":13,"zs":0.2,"lon":-174.345,"lat":-19.8095},{"p":"lime","i":14,"zs":0.2,"lon":-174.375,"lat":-19.822},{"p":"lime","i":15,"zs":0.2,"lon":-174.381,"lat":-19.824},{"p":"lime","i":16,"zs":0.2,"lon":-174.3837,"lat":-19.828},{"p":"lime","i":17,"zs":0.2,"lon":-174.386,"lat":-19.831},{"p":"lime","i":18,"zs":0.2,"lon":-174.391,"lat":-19.835},{"p":"lime","i":19,"zs":0.2,"lon":-174.4,"lat":-19.834},{"p":"lime","i":20,"zs":0.2,"lon":-174.4,"lat":-19.808},{"p":"lime","i":21,"zs":0.2,"lon":-174.3956,"lat":-19.8},{"p":"lime","i":22,"zs":0.2,"lon":-174.391,"lat":-19.789},{"p":"lime","i":23,"zs":0.2,"lon":-174.391,"lat":-19.779},{"p":"lime","i":24,"zs":0.2,"lon":-174.385,"lat":-19.759},{"p":"lime","i":25,"zs":0.2,"lon":-174.381,"lat":-19.751},{"p":"lime","i":26,"zs":0.2,"lon":-174.378,"lat":-19.74},{"p":"lime","i":27,"zs":0.2,"lon":-174.376,"lat":-19.734},{"p":"lime","i":28,"zs":0.2,"lon":-174.37,"lat":-19.727},
{"p":"yellow","i":0,"zs":0.6,"lon":-174.324,"lat":-19.7365},{"p":"yellow","i":1,"zs":0.6,"lon":-174.335,"lat":-19.733},{"p":"yellow","i":2,"zs":0.6,"lon":-174.347,"lat":-19.734},{"p":"yellow","i":3,"zs":0.6,"lon":-174.359,"lat":-19.7415},{"p":"yellow","i":4,"zs":0.6,"lon":-174.365,"lat":-19.755},{"p":"yellow","i":5,"zs":0.6,"lon":-174.375,"lat":-19.768},{"p":"yellow","i":6,"zs":0.6,"lon":-174.381,"lat":-19.778},{"p":"yellow","i":7,"zs":0.6,"lon":-174.383,"lat":-19.784},{"p":"yellow","i":8,"zs":0.6,"lon":-174.384,"lat":-19.798},{"p":"yellow","i":9,"zs":0.6,"lon":-174.392,"lat":-19.814},{"p":"yellow","i":10,"zs":0.6,"lon":-174.4,"lat":-19.832},{"p":"yellow","i":11,"zs":0.6,"lon":-174.4,"lat":-19.833},{"p":"yellow","i":12,"zs":0.6,"lon":-174.391,"lat":-19.8316},{"p":"yellow","i":13,"zs":0.6,"lon":-174.389,"lat":-19.834},{"p":"yellow","i":14,"zs":0.6,"lon":-174.385,"lat":-19.8303},{"p":"yellow","i":15,"zs":0.6,"lon":-174.38,"lat":-19.823},{"p":"yellow","i":16,"zs":0.6,"lon":-174.345,"lat":-19.8095},{"p":"yellow","i":17,"zs":0.6,"lon":-174.345,"lat":-19.766},{"p":"yellow","i":18,"zs":0.6,"lon":-174.3408,"lat":-19.7578},{"p":"yellow","i":19,"zs":0.6,"lon":-174.321,"lat":-19.743},
{"p":"amber","i":0,"zs":1,"lon":-174.334,"lat":-19.74},{"p":"amber","i":1,"zs":1,"lon":-174.342,"lat":-19.743},{"p":"amber","i":2,"zs":1,"lon":-174.35,"lat":-19.748},{"p":"amber","i":3,"zs":1,"lon":-174.36,"lat":-19.759},{"p":"amber","i":4,"zs":1,"lon":-174.368,"lat":-19.769},{"p":"amber","i":5,"zs":1,"lon":-174.373,"lat":-19.779},{"p":"amber","i":6,"zs":1,"lon":-174.376,"lat":-19.783},{"p":"amber","i":7,"zs":1,"lon":-174.38,"lat":-19.794},{"p":"amber","i":8,"zs":1,"lon":-174.381,"lat":-19.808},{"p":"amber","i":9,"zs":1,"lon":-174.382,"lat":-19.819},{"p":"amber","i":10,"zs":1,"lon":-174.386,"lat":-19.825},{"p":"amber","i":11,"zs":1,"lon":-174.383,"lat":-19.826},{"p":"amber","i":12,"zs":1,"lon":-174.345,"lat":-19.8095},{"p":"amber","i":13,"zs":1,"lon":-174.345,"lat":-19.766},{"p":"amber","i":14,"zs":1,"lon":-174.3408,"lat":-19.7578},{"p":"amber","i":15,"zs":1,"lon":-174.326,"lat":-19.741},
{"p":"orange","i":0,"zs":1.4,"lon":-174.354,"lat":-19.765},{"p":"orange","i":1,"zs":1.4,"lon":-174.357,"lat":-19.771},{"p":"orange","i":2,"zs":1.4,"lon":-174.361,"lat":-19.776},{"p":"orange","i":3,"zs":1.4,"lon":-174.366,"lat":-19.783},{"p":"orange","i":4,"zs":1.4,"lon":-174.371,"lat":-19.794},{"p":"orange","i":5,"zs":1.4,"lon":-174.375,"lat":-19.808},{"p":"orange","i":6,"zs":1.4,"lon":-174.379,"lat":-19.815},{"p":"orange","i":7,"zs":1.4,"lon":-174.37,"lat":-19.816},{"p":"orange","i":8,"zs":1.4,"lon":-174.345,"lat":-19.8095},{"p":"orange","i":9,"zs":1.4,"lon":-174.345,"lat":-19.766},
{"p":"red","i":0,"zs":1.8,"lon":-174.354,"lat":-19.789},{"p":"red","i":1,"zs":1.8,"lon":-174.359,"lat":-19.796},{"p":"red","i":2,"zs":1.8,"lon":-174.3635,"lat":-19.802},{"p":"red","i":3,"zs":1.8,"lon":-174.3675,"lat":-19.81},{"p":"red","i":4,"zs":1.8,"lon":-174.37,"lat":-19.816},{"p":"red","i":5,"zs":1.8,"lon":-174.345,"lat":-19.8095},{"p":"red","i":6,"zs":1.8,"lon":-174.345,"lat":-19.789}
],
"b_land":[
{"p":"main","i":0,"lon":-174.282,"lat":-19.7115},{"p":"main","i":1,"lon":-174.281,"lat":-19.716},{"p":"main","i":2,"lon":-174.278,"lat":-19.72},{"p":"main","i":3,"lon":-174.278,"lat":-19.725},{"p":"main","i":4,"lon":-174.281,"lat":-19.73},{"p":"main","i":5,"lon":-174.281,"lat":-19.739},{"p":"main","i":6,"lon":-174.284,"lat":-19.741},{"p":"main","i":7,"lon":-174.285,"lat":-19.746},{"p":"main","i":8,"lon":-174.29,"lat":-19.752},{"p":"main","i":9,"lon":-174.29,"lat":-19.7565},{"p":"main","i":10,"lon":-174.298,"lat":-19.757},{"p":"main","i":11,"lon":-174.337,"lat":-19.757},{"p":"main","i":12,"lon":-174.34,"lat":-19.758},{"p":"main","i":13,"lon":-174.339,"lat":-19.764},{"p":"main","i":14,"lon":-174.338,"lat":-19.772},{"p":"main","i":15,"lon":-174.339,"lat":-19.776},{"p":"main","i":16,"lon":-174.34,"lat":-19.7815},{"p":"main","i":17,"lon":-174.341,"lat":-19.811},{"p":"main","i":18,"lon":-174.339,"lat":-19.818},{"p":"main","i":19,"lon":-174.337,"lat":-19.821},{"p":"main","i":20,"lon":-174.339,"lat":-19.825},{"p":"main","i":21,"lon":-174.342,"lat":-19.828},{"p":"main","i":22,"lon":-174.349,"lat":-19.8295},{"p":"main","i":23,"lon":-174.36,"lat":-19.827},{"p":"main","i":24,"lon":-174.3665,"lat":-19.826},{"p":"main","i":25,"lon":-174.381,"lat":-19.825},{"p":"main","i":26,"lon":-174.385,"lat":-19.827},{"p":"main","i":27,"lon":-174.386,"lat":-19.825},{"p":"main","i":28,"lon":-174.381,"lat":-19.819},{"p":"main","i":29,"lon":-174.376,"lat":-19.812},{"p":"main","i":30,"lon":-174.3665,"lat":-19.8115},{"p":"main","i":31,"lon":-174.36,"lat":-19.807},{"p":"main","i":32,"lon":-174.356,"lat":-19.802},{"p":"main","i":33,"lon":-174.353,"lat":-19.79},{"p":"main","i":34,"lon":-174.353,"lat":-19.7815},{"p":"main","i":35,"lon":-174.354,"lat":-19.772},{"p":"main","i":36,"lon":-174.354,"lat":-19.766},{"p":"main","i":37,"lon":-174.347,"lat":-19.7636},{"p":"main","i":38,"lon":-174.342,"lat":-19.7586},{"p":"main","i":39,"lon":-174.341,"lat":-19.756},{"p":"main","i":40,"lon":-174.337,"lat":-19.748},{"p":"main","i":41,"lon":-174.3305,"lat":-19.7407},{"p":"main","i":42,"lon":-174.324,"lat":-19.7365},{"p":"main","i":43,"lon":-174.316,"lat":-19.73},{"p":"main","i":44,"lon":-174.314,"lat":-19.729},{"p":"main","i":45,"lon":-174.306,"lat":-19.725},{"p":"main","i":46,"lon":-174.3,"lat":-19.724},{"p":"main","i":47,"lon":-174.296,"lat":-19.72},{"p":"main","i":48,"lon":-174.291,"lat":-19.7144},{"p":"main","i":49,"lon":-174.285,"lat":-19.713},{"p":"main","i":50,"lon":-174.282,"lat":-19.7115},
{"p":"sw","i":0,"lon":-174.4,"lat":-19.833},{"p":"sw","i":1,"lon":-174.3946,"lat":-19.832},{"p":"sw","i":2,"lon":-174.392,"lat":-19.832},{"p":"sw","i":3,"lon":-174.391,"lat":-19.833},{"p":"sw","i":4,"lon":-174.392,"lat":-19.8345},{"p":"sw","i":5,"lon":-174.3946,"lat":-19.835},{"p":"sw","i":6,"lon":-174.397,"lat":-19.841},{"p":"sw","i":7,"lon":-174.4,"lat":-19.845},
{"p":"isle","i":0,"lon":-174.281,"lat":-19.709},{"p":"isle","i":1,"lon":-174.281,"lat":-19.705},{"p":"isle","i":2,"lon":-174.279,"lat":-19.7035},{"p":"isle","i":3,"lon":-174.276,"lat":-19.7035},{"p":"isle","i":4,"lon":-174.275,"lat":-19.706},{"p":"isle","i":5,"lon":-174.276,"lat":-19.71},{"p":"isle","i":6,"lon":-174.279,"lat":-19.7106},{"p":"isle","i":7,"lon":-174.281,"lat":-19.709}
],
"b_coast":[{"i":0,"lon":-174.386,"lat":-19.825},{"i":1,"lon":-174.381,"lat":-19.819},{"i":2,"lon":-174.376,"lat":-19.812},{"i":3,"lon":-174.3665,"lat":-19.8115},{"i":4,"lon":-174.36,"lat":-19.807},{"i":5,"lon":-174.356,"lat":-19.802},{"i":6,"lon":-174.353,"lat":-19.79},{"i":7,"lon":-174.353,"lat":-19.7815},{"i":8,"lon":-174.354,"lat":-19.772},{"i":9,"lon":-174.354,"lat":-19.766},{"i":10,"lon":-174.347,"lat":-19.7636},{"i":11,"lon":-174.342,"lat":-19.7586},{"i":12,"lon":-174.341,"lat":-19.756},{"i":13,"lon":-174.337,"lat":-19.748},{"i":14,"lon":-174.3305,"lat":-19.7407}],
"b_specks":[{"lon":-174.298,"lat":-19.757},{"lon":-174.349,"lat":-19.8295}],
"b_arrows":[
{"lon":-174.384,"lat":-19.7065,"dir":300,"speed":0.4},{"lon":-174.366,"lat":-19.7065,"dir":0,"speed":0.4},{"lon":-174.349,"lat":-19.7065,"dir":340,"speed":0.4},{"lon":-174.331,"lat":-19.7065,"dir":290,"speed":0.4},{"lon":-174.315,"lat":-19.7065,"dir":70,"speed":0.4},{"lon":-174.297,"lat":-19.7065,"dir":0,"speed":0.8},{"lon":-174.263,"lat":-19.7065,"dir":110,"speed":0.4},
{"lon":-174.384,"lat":-19.724,"dir":45,"speed":1.2},{"lon":-174.366,"lat":-19.724,"dir":45,"speed":1.2},{"lon":-174.349,"lat":-19.724,"dir":25,"speed":1},{"lon":-174.331,"lat":-19.724,"dir":0,"speed":0.7},{"lon":-174.313,"lat":-19.724,"dir":320,"speed":0.8},{"lon":-174.263,"lat":-19.723,"dir":100,"speed":0.5},
{"lon":-174.384,"lat":-19.741,"dir":50,"speed":1},{"lon":-174.366,"lat":-19.741,"dir":45,"speed":1},{"lon":-174.349,"lat":-19.741,"dir":25,"speed":0.8},{"lon":-174.331,"lat":-19.741,"dir":320,"speed":0.8},{"lon":-174.28,"lat":-19.741,"dir":10,"speed":0.4},{"lon":-174.263,"lat":-19.741,"dir":110,"speed":0.4},
{"lon":-174.384,"lat":-19.758,"dir":90,"speed":0.9},{"lon":-174.366,"lat":-19.758,"dir":70,"speed":0.8},{"lon":-174.349,"lat":-19.758,"dir":0,"speed":0.3},{"lon":-174.331,"lat":-19.757,"dir":0,"speed":0.4},{"lon":-174.315,"lat":-19.757,"dir":0,"speed":0.4},{"lon":-174.297,"lat":-19.757,"dir":90,"speed":0.4},{"lon":-174.28,"lat":-19.759,"dir":270,"speed":0.4},{"lon":-174.263,"lat":-19.759,"dir":110,"speed":0.4},
{"lon":-174.384,"lat":-19.775,"dir":90,"speed":0.9},{"lon":-174.366,"lat":-19.775,"dir":90,"speed":0.8},{"lon":-174.331,"lat":-19.775,"dir":250,"speed":0.3},{"lon":-174.315,"lat":-19.775,"dir":250,"speed":0.3},{"lon":-174.297,"lat":-19.775,"dir":180,"speed":0.3},{"lon":-174.28,"lat":-19.775,"dir":150,"speed":0.4},{"lon":-174.263,"lat":-19.775,"dir":230,"speed":0.4},
{"lon":-174.384,"lat":-19.792,"dir":135,"speed":1.3},{"lon":-174.366,"lat":-19.792,"dir":110,"speed":0.4},{"lon":-174.331,"lat":-19.792,"dir":80,"speed":0.4},{"lon":-174.315,"lat":-19.792,"dir":80,"speed":0.4},{"lon":-174.297,"lat":-19.792,"dir":75,"speed":0.4},{"lon":-174.28,"lat":-19.792,"dir":100,"speed":0.4},{"lon":-174.263,"lat":-19.792,"dir":280,"speed":0.4},
{"lon":-174.384,"lat":-19.809,"dir":145,"speed":1.1},{"lon":-174.366,"lat":-19.809,"dir":130,"speed":0.3},{"lon":-174.331,"lat":-19.809,"dir":110,"speed":0.4},{"lon":-174.315,"lat":-19.809,"dir":290,"speed":0.4},{"lon":-174.297,"lat":-19.809,"dir":290,"speed":0.4},{"lon":-174.28,"lat":-19.809,"dir":0,"speed":0.3},{"lon":-174.263,"lat":-19.809,"dir":340,"speed":0.3},
{"lon":-174.379,"lat":-19.825,"dir":80,"speed":0.5},{"lon":-174.366,"lat":-19.827,"dir":0,"speed":0.7},{"lon":-174.331,"lat":-19.827,"dir":300,"speed":0.4},{"lon":-174.315,"lat":-19.827,"dir":0,"speed":0.3},{"lon":-174.297,"lat":-19.827,"dir":340,"speed":0.3},{"lon":-174.28,"lat":-19.827,"dir":10,"speed":0.3},{"lon":-174.263,"lat":-19.827,"dir":0,"speed":0.3},
{"lon":-174.384,"lat":-19.844,"dir":0,"speed":0.3},{"lon":-174.366,"lat":-19.844,"dir":80,"speed":0.3},{"lon":-174.349,"lat":-19.844,"dir":340,"speed":0.3},{"lon":-174.331,"lat":-19.844,"dir":300,"speed":0.3},{"lon":-174.315,"lat":-19.844,"dir":340,"speed":0.3},{"lon":-174.297,"lat":-19.844,"dir":350,"speed":0.3},{"lon":-174.28,"lat":-19.844,"dir":350,"speed":0.3},{"lon":-174.263,"lat":-19.844,"dir":0,"speed":0.3}
]
},
"hconcat":[
{"bounds":"flush","spacing":0,"vconcat":[
{"width":408,"height":107,"data":{"values":[{}]},"mark":{"type":"point","opacity":0},"view":{"stroke":null}},
{"width":408,"height":308,"view":{"stroke":"#333","strokeWidth":2},
"encoding":{"x":{"field":"lon","type":"quantitative","title":"LONGITUDE (ºW)","scale":{"domain":[-175.39,-175.001],"nice":false,"zero":false},"axis":{"values":[-175.35,-175.3,-175.25,-175.2,-175.15,-175.1,-175.05],"labelExpr":"format(abs(datum.value),'.2~f')+'W'","labelFontSize":8,"labelFlush":false,"grid":true,"titleFontSize":37,"titlePadding":18,"titleX":211}},
"y":{"field":"lat","type":"quantitative","title":"LATITUDE (ºS)","scale":{"domain":[-21.2757,-21],"nice":false,"zero":false},"axis":{"values":[-21.03,-21.06,-21.09,-21.12,-21.15,-21.18,-21.21,-21.24,-21.27],"labelExpr":"format(abs(datum.value),'.2~f')+'S'","labelFontSize":8,"labelFlush":false,"grid":true,"titleFontSize":39,"titlePadding":20,"titleY":158}}},
"layer":[
{"data":{"name":"a_polys"},"mark":{"type":"line","filled":true,"strokeWidth":0,"clip":true},"encoding":{"detail":{"field":"p"},"order":{"field":"i"},"fill":{"field":"zs","type":"ordinal","legend":null,"scale":{"domain":[-1.75,-1.25,-0.75,-0.25,0.25,0.75,1.25,1.75,2.25,2.75],"range":["#8c8cff","#1414ff","#1e5ae8","#33b5d9","#73e89a","#c8f733","#ffef00","#ffc000","#ff9200","#ff4e00"]}}}},
{"data":{"name":"a_land"},"mark":{"type":"line","filled":true,"fill":"#ffffff","strokeWidth":0,"clip":true},"encoding":{"detail":{"field":"p"},"order":{"field":"i"}}},
{"data":{"name":"a_over"},"mark":{"type":"line","filled":true,"strokeWidth":0,"clip":true},"encoding":{"detail":{"field":"p"},"order":{"field":"i"},"fill":{"field":"zs","type":"ordinal","legend":null,"scale":{"domain":[-1.75,-1.25,-0.75,-0.25,0.25,0.75,1.25,1.75,2.25,2.75],"range":["#8c8cff","#1414ff","#1e5ae8","#33b5d9","#73e89a","#c8f733","#ffef00","#ffc000","#ff9200","#ff4e00"]}}}},
{"data":{"name":"a_specks"},"mark":{"type":"circle","color":"#ffffff","size":28,"opacity":1}},
{"data":{"name":"a_coast"},"mark":{"type":"line","color":"#2438e0","strokeWidth":1.5},"encoding":{"order":{"field":"i"}}},
{"data":{"name":"a_arrows"},"transform":[{"filter":"datum.speed<0.5"}],"mark":{"type":"point","shape":"triangle-up","filled":true,"color":"#111","size":12,"opacity":1},"encoding":{"angle":{"field":"dir","type":"quantitative","scale":null}}},
{"data":{"name":"a_arrows"},"transform":[{"filter":"datum.speed>=0.5 && datum.speed<1"}],"mark":{"type":"point","shape":"M0,0L0,-1M-0.22,-0.6L0,-1L0.22,-0.6Z","filled":true,"color":"#111","stroke":"#111","strokeWidth":0.8,"opacity":1},"encoding":{"angle":{"field":"dir","type":"quantitative","scale":null},"size":{"field":"speed","type":"quantitative","legend":null,"scale":{"type":"pow","exponent":2,"domain":[0,3],"range":[0,3136]}}}},
{"data":{"name":"a_arrows"},"transform":[{"filter":"datum.speed>=1"}],"mark":{"type":"point","shape":"M0,0L0,-1M-0.13,-0.72L0,-1L0.13,-0.72Z","filled":true,"color":"#111","stroke":"#111","strokeWidth":0.8,"opacity":1},"encoding":{"angle":{"field":"dir","type":"quantitative","scale":null},"size":{"field":"speed","type":"quantitative","legend":null,"scale":{"type":"pow","exponent":2,"domain":[0,3],"range":[0,3136]}}}},
{"data":{"values":[{"lon":-175.304,"lat":-21.099}]},"mark":{"type":"point","shape":"circle","filled":false,"stroke":"#ff0000","strokeWidth":6,"size":8100,"opacity":1}},
{"data":{"values":[{"lon":-175.095,"lon2":-175.072,"lat":-21.296}]},"mark":{"type":"rule","color":"#444","strokeWidth":1},"encoding":{"x2":{"field":"lon2"}}},
{"data":{"values":[{"lon":-175.072,"lat":-21.296}]},"mark":{"type":"point","shape":"triangle-right","filled":true,"color":"#444","size":14,"opacity":1}},
{"data":{"values":[{"lon":-175.0825,"lat":-21.3034,"label":"3"}]},"mark":{"type":"text","font":"Liberation Sans","fontSize":9,"color":"#444","baseline":"middle"},"encoding":{"text":{"field":"label"}}},
{"data":{"values":[{"lon":-175.1958,"lat":-20.9893,"label":"01:30Z04APR2020\u00a0\u00a0U;V,zs"}]},"mark":{"type":"text","font":"DejaVu Sans","fontSize":15,"color":"#444","baseline":"middle"},"encoding":{"text":{"field":"label"}}},
{"data":{"values":[{"lon":-175.414,"lat":-20.945,"label":"A"}]},"mark":{"type":"text","font":"Liberation Sans","fontSize":24,"fontWeight":"bold","color":"#000","baseline":"middle"},"encoding":{"text":{"field":"label"}}}
]}]},
{"width":25,"height":1,"data":{"values":[{}]},"mark":{"type":"point","opacity":0},"view":{"stroke":null}},
{"bounds":"flush","spacing":0,"vconcat":[
{"width":10,"height":128,"data":{"values":[{}]},"mark":{"type":"point","opacity":0},"view":{"stroke":null}},
{"width":10,"height":266,"view":{"stroke":null},
"layer":[
{"data":{"name":"bandsA"},"mark":{"type":"rect","stroke":"#444","strokeWidth":1},"encoding":{"y":{"field":"lo","type":"quantitative","title":null,"scale":{"domain":[-2.786,3.548],"nice":false,"zero":false},"axis":null},"y2":{"field":"hi"},"fill":{"field":"zs","type":"ordinal","legend":null,"scale":{"domain":[-1.75,-1.25,-0.75,-0.25,0.25,0.75,1.25,1.75,2.25,2.75],"range":["#8c8cff","#1414ff","#1e5ae8","#33b5d9","#73e89a","#c8f733","#ffef00","#ffc000","#ff9200","#ff4e00"]}}}},
{"data":{"values":[{"pos":0,"tip":3,"base":3},{"pos":0.5,"tip":3.548,"base":3},{"pos":1,"tip":3,"base":3}]},"mark":{"type":"area","fill":"#ff0000","stroke":"#444","strokeWidth":1},"encoding":{"x":{"field":"pos","type":"quantitative","axis":null,"scale":{"domain":[0,1]}},"y":{"field":"tip","type":"quantitative"},"y2":{"field":"base"}}},
{"data":{"values":[{"pos":0,"tip":-2,"base":-2},{"pos":0.5,"tip":-2.786,"base":-2},{"pos":1,"tip":-2,"base":-2}]},"mark":{"type":"area","fill":"#ffffff","stroke":"#444","strokeWidth":1},"encoding":{"x":{"field":"pos","type":"quantitative","axis":null,"scale":{"domain":[0,1]}},"y":{"field":"tip","type":"quantitative"},"y2":{"field":"base"}}},
{"data":{"name":"ticksA"},"mark":{"type":"text","font":"Liberation Sans","fontSize":11,"color":"#222","align":"left","baseline":"middle"},"encoding":{"x":{"field":"pos","type":"quantitative","axis":null},"y":{"field":"val","type":"quantitative"},"text":{"field":"label"}}}
]}]},
{"bounds":"flush","spacing":0,"vconcat":[
{"width":304,"height":26,"data":{"values":[{}]},"mark":{"type":"point","opacity":0},"view":{"stroke":null}},
{"width":304,"height":384,"view":{"stroke":"#333","strokeWidth":2},
"encoding":{"x":{"field":"lon","type":"quantitative","title":"LONGITUDE (ºW)","scale":{"domain":[-174.4,-174.25],"nice":false,"zero":false},"axis":{"values":[-174.4,-174.38,-174.36,-174.34,-174.32,-174.3,-174.28,-174.26],"labelExpr":"format(abs(datum.value),'.2~f')+'W'","labelFontSize":9.5,"labelFlush":false,"grid":true,"titleFontSize":37,"titlePadding":20,"titleX":148}},
"y":{"field":"lat","type":"quantitative","title":"LATITUDE (ºS)","scale":{"domain":[-19.86,-19.7],"nice":false,"zero":false},"axis":{"values":[-19.7,-19.72,-19.74,-19.76,-19.78,-19.8,-19.82,-19.84],"labelExpr":"format(abs(datum.value),'.2~f')+'S'","labelFontSize":8,"labelFlush":false,"grid":true,"titleFontSize":39,"titlePadding":-2,"titleY":212}}},
"layer":[
{"data":{"name":"b_polys"},"mark":{"type":"line","filled":true,"strokeWidth":0,"clip":true},"encoding":{"detail":{"field":"p"},"order":{"field":"i"},"fill":{"field":"zs","type":"ordinal","legend":null,"scale":{"domain":[-1.8,-1.4,-1,-0.6,-0.2,0.2,0.6,1,1.4,1.8],"range":["#8c8cff","#1414ff","#1e5ae8","#33b5d9","#73e89a","#c8f733","#ffef00","#ffc000","#ff9200","#ff4e00"]}}}},
{"data":{"name":"b_land"},"mark":{"type":"line","filled":true,"fill":"#ffffff","strokeWidth":0,"clip":true},"encoding":{"detail":{"field":"p"},"order":{"field":"i"}}},
{"data":{"name":"b_coast"},"mark":{"type":"line","color":"#2438e0","strokeWidth":2.4},"encoding":{"order":{"field":"i"}}},
{"data":{"name":"b_land"},"mark":{"type":"line","color":"#333","strokeWidth":1,"clip":true},"encoding":{"detail":{"field":"p"},"order":{"field":"i"}}},
{"data":{"name":"b_specks"},"mark":{"type":"point","shape":"circle","filled":true,"fill":"#ffffff","stroke":"#333","strokeWidth":1,"size":24,"opacity":1}},
{"data":{"name":"b_arrows"},"transform":[{"filter":"datum.speed<0.5"}],"mark":{"type":"point","shape":"triangle-up","filled":true,"color":"#111","size":12,"opacity":1},"encoding":{"angle":{"field":"dir","type":"quantitative","scale":null}}},
{"data":{"name":"b_arrows"},"transform":[{"filter":"datum.speed>=0.5 && datum.speed<1"}],"mark":{"type":"point","shape":"M0,0L0,-1M-0.22,-0.6L0,-1L0.22,-0.6Z","filled":true,"color":"#111","stroke":"#111","strokeWidth":0.8,"opacity":1},"encoding":{"angle":{"field":"dir","type":"quantitative","scale":null},"size":{"field":"speed","type":"quantitative","legend":null,"scale":{"type":"pow","exponent":2,"domain":[0,3],"range":[0,3136]}}}},
{"data":{"name":"b_arrows"},"transform":[{"filter":"datum.speed>=1"}],"mark":{"type":"point","shape":"M0,0L0,-1M-0.13,-0.72L0,-1L0.13,-0.72Z","filled":true,"color":"#111","stroke":"#111","strokeWidth":0.8,"opacity":1},"encoding":{"angle":{"field":"dir","type":"quantitative","scale":null},"size":{"field":"speed","type":"quantitative","legend":null,"scale":{"type":"pow","exponent":2,"domain":[0,3],"range":[0,3136]}}}},
{"data":{"values":[{"lon":-174.3714,"lat":-19.8015,"lat2":-19.817}]},"mark":{"type":"rule","color":"#ee1122","strokeWidth":5},"encoding":{"y2":{"field":"lat2"}}},
{"data":{"values":[{"lon":-174.3714,"lat":-19.8025}]},"mark":{"type":"point","shape":"triangle-up","filled":true,"color":"#ee1122","size":300,"opacity":1}},
{"data":{"values":[{"lon":-174.3714,"lat":-19.8165}]},"mark":{"type":"point","shape":"triangle-down","filled":true,"color":"#ee1122","size":300,"opacity":1}},
{"data":{"values":[{"lon":-174.3048,"lon2":-174.291,"lat":-19.872}]},"mark":{"type":"rule","color":"#444","strokeWidth":1},"encoding":{"x2":{"field":"lon2"}}},
{"data":{"values":[{"lon":-174.291,"lat":-19.872}]},"mark":{"type":"point","shape":"triangle-right","filled":true,"color":"#444","size":14,"opacity":1}},
{"data":{"values":[{"lon":-174.298,"lat":-19.8753,"label":"3"}]},"mark":{"type":"text","font":"Liberation Sans","fontSize":9,"color":"#444","baseline":"middle"},"encoding":{"text":{"field":"label"}}},
{"data":{"values":[{"lon":-174.3315,"lat":-19.6927,"label":"01:30Z04APR2020\u00a0\u00a0U;V,zs"}]},"mark":{"type":"text","font":"DejaVu Sans","fontSize":14.5,"color":"#444","baseline":"middle"},"encoding":{"text":{"field":"label"}}},
{"data":{"values":[{"lon":-174.426,"lat":-19.6956,"label":"B"}]},"mark":{"type":"text","font":"Liberation Sans","fontSize":24,"fontWeight":"bold","color":"#000","baseline":"middle"},"encoding":{"text":{"field":"label"}}}
]}]},
{"width":67,"height":1,"data":{"values":[{}]},"mark":{"type":"point","opacity":0},"view":{"stroke":null}},
{"bounds":"flush","spacing":0,"vconcat":[
{"width":11,"height":52,"data":{"values":[{}]},"mark":{"type":"point","opacity":0},"view":{"stroke":null}},
{"width":11,"height":331,"view":{"stroke":null},
"layer":[
{"data":{"name":"bandsB"},"mark":{"type":"rect","stroke":"#444","strokeWidth":1},"encoding":{"y":{"field":"lo","type":"quantitative","title":null,"scale":{"domain":[-2.407,2.407],"nice":false,"zero":false},"axis":null},"y2":{"field":"hi"},"fill":{"field":"zs","type":"ordinal","legend":null,"scale":{"domain":[-1.8,-1.4,-1,-0.6,-0.2,0.2,0.6,1,1.4,1.8],"range":["#8c8cff","#1414ff","#1e5ae8","#33b5d9","#73e89a","#c8f733","#ffef00","#ffc000","#ff9200","#ff4e00"]}}}},
{"data":{"values":[{"pos":0,"tip":2,"base":2},{"pos":0.5,"tip":2.407,"base":2},{"pos":1,"tip":2,"base":2}]},"mark":{"type":"area","fill":"#ff0000","stroke":"#444","strokeWidth":1},"encoding":{"x":{"field":"pos","type":"quantitative","axis":null,"scale":{"domain":[0,1]}},"y":{"field":"tip","type":"quantitative"},"y2":{"field":"base"}}},
{"data":{"values":[{"pos":0,"tip":-2,"base":-2},{"pos":0.5,"tip":-2.407,"base":-2},{"pos":1,"tip":-2,"base":-2}]},"mark":{"type":"area","fill":"#ffffff","stroke":"#444","strokeWidth":1},"encoding":{"x":{"field":"pos","type":"quantitative","axis":null,"scale":{"domain":[0,1]}},"y":{"field":"tip","type":"quantitative"},"y2":{"field":"base"}}},
{"data":{"name":"ticksB"},"mark":{"type":"text","font":"Liberation Sans","fontSize":12,"color":"#222","align":"left","baseline":"middle"},"encoding":{"x":{"field":"pos","type":"quantitative","axis":null},"y":{"field":"val","type":"quantitative"},"text":{"field":"label"}}}
]}]}
],
"spacing":0,"bounds":"full"
}
